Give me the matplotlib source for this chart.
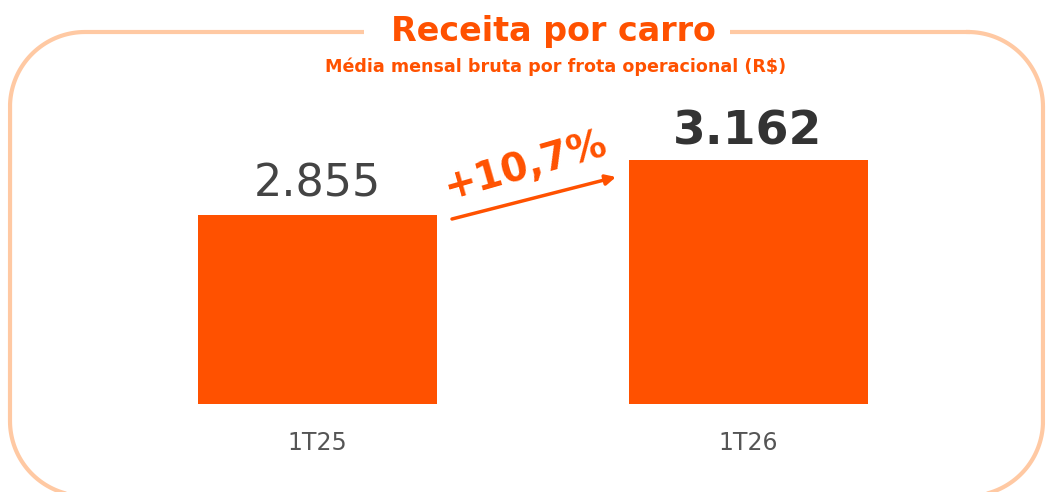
import numpy as np
import matplotlib
matplotlib.use('Agg')
import matplotlib.pyplot as plt
from matplotlib.patches import Rectangle

categories = ['1T25', '1T26']
values = [2855, 3162]
value_labels = ['2.855', '3.162']
growth_label = '+10,7%'
title = 'Receita por carro'
subtitle = 'Média mensal bruta por frota operacional (R$)'

orange = '#FF5100'
peach = '#FFC9A3'


def rounded_frame(x0, y0, x1, y1, r, n=40):
    # corners of a rounded rectangle (y grows downward), sampled as a polyline
    pts = []
    corners = [(x1 - r, y0 + r, -90, 0), (x1 - r, y1 - r, 0, 90),
               (x0 + r, y1 - r, 90, 180), (x0 + r, y0 + r, 180, 270)]
    for cx, cy, a0, a1 in corners:
        t = np.radians(np.linspace(a0, a1, n))
        pts.append(np.column_stack([cx + r * np.cos(t), cy + r * np.sin(t)]))
    pts = np.vstack(pts)
    return np.vstack([pts, pts[:1]])


fig = plt.figure(figsize=(10.52, 4.92), dpi=100)

# background layer in pixel coordinates for the frame and arrow
bg = fig.add_axes([0, 0, 1, 1])
bg.set_xlim(0, 1052)
bg.set_ylim(492, 0)
bg.axis('off')

fp = rounded_frame(10, 32, 1043, 496, 75)
bg.plot(fp[:, 0], fp[:, 1], color=peach, lw=3, solid_joinstyle='round')
bg.add_patch(Rectangle((364, 20), 366, 25, facecolor='white', edgecolor='none', zorder=3))

bg.text(553, 31, title, ha='center', va='center', fontsize=24, fontweight='heavy',
        color=orange, zorder=4)
bg.text(556, 67, subtitle, ha='center', va='center', fontsize=12.6, fontweight='semibold',
        family=['Liberation Sans Narrow', 'DejaVu Sans'], color=orange, zorder=4)

bg.annotate('', xy=(616, 177), xytext=(452, 219),
            arrowprops=dict(arrowstyle='-|>,head_length=0.6,head_width=0.3',
                            color=orange, lw=2.5, shrinkA=0, shrinkB=0))
bg.text(526, 166, growth_label, ha='center', va='center', rotation=16,
        fontsize=28, fontweight='heavy', color=orange)

# data axes: bars start from a cut baseline
ax = fig.add_axes([0, 88 / 492, 1, 304 / 492])
ax.patch.set_alpha(0)
x = np.arange(len(categories))
ax.bar(x, values, width=0.555, color=orange, bottom=0)
ax.set_xlim(-0.7375, 1.706)
ax.set_ylim(1800, 1800 + 304 / 0.17915)
ax.axis('off')

ax.annotate(value_labels[0], (x[0], values[0]), xytext=(0, 7), textcoords='offset points',
            ha='center', va='bottom', fontsize=32, color='#444444')
ax.annotate(value_labels[1], (x[1], values[1]), xytext=(0, 4), textcoords='offset points',
            ha='center', va='bottom', fontsize=34, fontweight='heavy', color='#333333')

for xi, c in zip(x, categories):
    ax.annotate(c, (xi, 1800), xytext=(0, -28), textcoords='offset points',
                ha='center', va='center', fontsize=17, color='#555555',
                family=['Liberation Sans Narrow', 'DejaVu Sans'])

fig.savefig('out.png', dpi=100)
